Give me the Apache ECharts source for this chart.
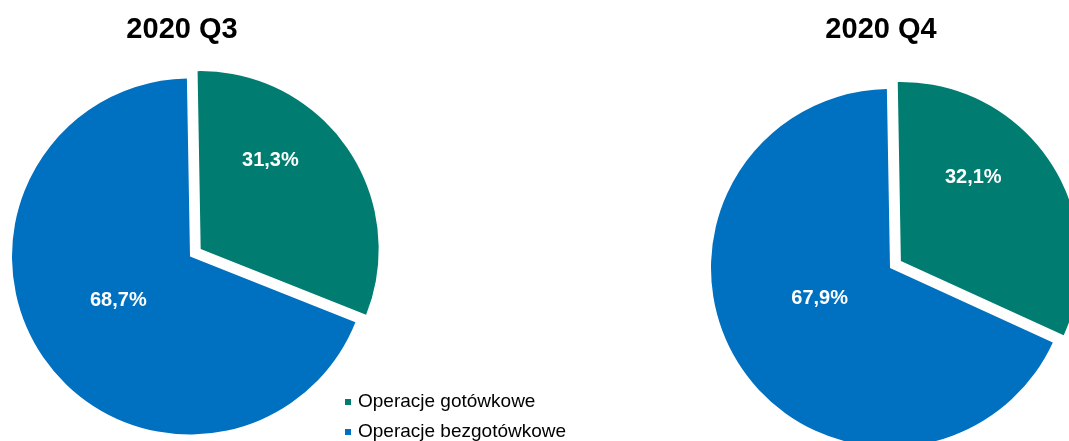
<!DOCTYPE html>
<html>
<head>
<meta charset="utf-8">
<script src="https://cdn.jsdelivr.net/npm/echarts@6/dist/echarts.min.js"></script>
<style>
html,body{margin:0;padding:0;background:#fff;}
#chart{width:1069px;height:441px;}
</style>
</head>
<body>
<div id="chart"></div>
<script>
const categories = ['Operacje gotówkowe', 'Operacje bezgotówkowe'];
const periods = ['2020 Q3', '2020 Q4'];
const valuesQ3 = [31.3, 68.7];
const valuesQ4 = [32.1, 67.9];
const colors = ['#007C70', '#0070C0'];

const FONT = '"Liberation Sans", Arial, sans-serif';
// label nudges (layout only)
const labelNudge = [
  [[-6, -36], [4, -8]],
  [[-5, -33], [7, -20]]
];
const centers = [[190, 256.5], [890, 268]];
const radii = [178, 179];
const titleX = [182, 881];

function fmt(v) { return v.toFixed(1).replace('.', ',') + '%'; }

function makeSeries(idx, values) {
  return {
    type: 'pie',
    name: periods[idx],
    center: centers[idx],
    radius: radii[idx],
    startAngle: 91,
    clockwise: true,
    selectedMode: 'single',
    selectedOffset: 13,
    avoidLabelOverlap: false,
    animation: false,
    emphasis: { disabled: true },
    label: {
      show: true,
      position: 'inside',
      color: '#fff',
      fontFamily: FONT,
      fontWeight: 'bold',
      fontSize: 20,
      formatter: p => fmt(p.value)
    },
    labelLine: { show: false },
    labelLayout: p => ({ dx: labelNudge[idx][p.dataIndex][0], dy: labelNudge[idx][p.dataIndex][1] }),
    data: categories.map((c, i) => ({
      name: c,
      value: values[i],
      selected: i === 0,
      itemStyle: { color: colors[i] }
    }))
  };
}

const chart = echarts.init(document.getElementById('chart'), null, { renderer: 'canvas' });
chart.setOption({
  backgroundColor: '#fff',
  animation: false,
  title: periods.map((p, i) => ({
    text: p,
    left: titleX[i],
    top: 15,
    padding: 0,
    textAlign: 'center',
    textStyle: { fontFamily: FONT, fontWeight: 'bold', fontSize: 29, color: '#000' }
  })),
  legend: {
    orient: 'vertical',
    left: 345,
    top: 392,
    padding: 0,
    height: 60,
    itemWidth: 6,
    itemHeight: 6,
    itemGap: 10,
    icon: 'rect',
    selectedMode: false,
    data: categories,
    textStyle: { fontFamily: FONT, fontSize: 19, color: '#000', lineHeight: 20, padding: [0, 0, 0, 2] }
  },
  series: [makeSeries(0, valuesQ3), makeSeries(1, valuesQ4)]
});
</script>
</body>
</html>
